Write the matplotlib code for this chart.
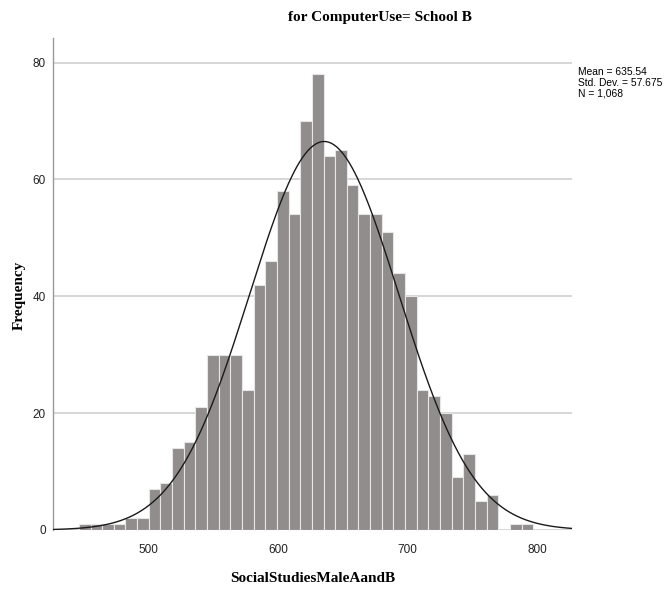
import numpy as np
import matplotlib
matplotlib.use("Agg")
import matplotlib.pyplot as plt

# ---- data ----
bin_start = 446
bin_width = 9
counts = [1, 1, 1, 1, 2, 2,
          7, 8, 14, 15, 21, 30, 30, 30, 24, 42, 46, 58, 54, 70, 78,
          64, 65, 59, 54, 54, 51, 44, 40, 24, 23,
          20, 9, 13, 5, 6, 0, 1, 1]
mean = 635.54
std = 57.675
n = 1068
title = "for ComputerUse= School B"
xlabel = "SocialStudiesMaleAandB"
ylabel = "Frequency"
xticks = [500, 600, 700, 800]
yticks = [0, 20, 40, 60, 80]
stats_text = "Mean = 635.54\nStd. Dev. = 57.675\nN = 1,068"

edges = bin_start + bin_width * np.arange(len(counts))

fig = plt.figure(figsize=(6.64, 5.91), dpi=100)
ax = fig.add_axes([53/664, 1-530/591, (572-53)/664, (530-38)/591])

ax.bar(edges, counts, width=bin_width, align='edge', color='#918d8c',
       edgecolor='#e6e6e6', linewidth=0.8, zorder=2)

xs = np.linspace(426, 827, 400)
ys = n * bin_width * np.exp(-0.5*((xs-mean)/std)**2) / (std*np.sqrt(2*np.pi))
ax.plot(xs, ys, color='#1a1a1a', linewidth=1.0, zorder=3)

ax.set_xlim(426, 827)
ax.set_ylim(0, 84.2)
ax.set_xticks(xticks)
ax.set_yticks(yticks)
ax.yaxis.grid(True, color='#cfcfcf', linewidth=1.2, zorder=0)
ax.set_axisbelow(True)
for s in ['top', 'right', 'bottom']:
    ax.spines[s].set_visible(False)
ax.spines['left'].set_color('#9a9a9a')
ax.spines['left'].set_linewidth(1.0)
ax.tick_params(axis='both', length=0, labelsize=8.5, colors='#222222')
ax.tick_params(axis='y', pad=5)
ax.tick_params(axis='x', pad=10)
sans = ['Liberation Sans', 'DejaVu Sans']
for lab in ax.get_xticklabels() + ax.get_yticklabels():
    lab.set_family(sans)

serif = ['Liberation Serif', 'DejaVu Serif']
fig.text(380/664, 1-17/591, title, ha='center', va='center',
         fontsize=11, fontweight='bold', family=serif)
fig.text(313/664, 1-578/591, xlabel, ha='center', va='center',
         fontsize=11, fontweight='bold', family=serif)
fig.text(19/664, 1-295/591, ylabel, ha='center', va='center', rotation=90,
         fontsize=11, fontweight='bold', family=serif)
fig.text(578/664, 1-67/591, stats_text, ha='left', va='top',
         fontsize=7.4, linespacing=1.12, family=sans)

fig.savefig("out.png", dpi=100)
